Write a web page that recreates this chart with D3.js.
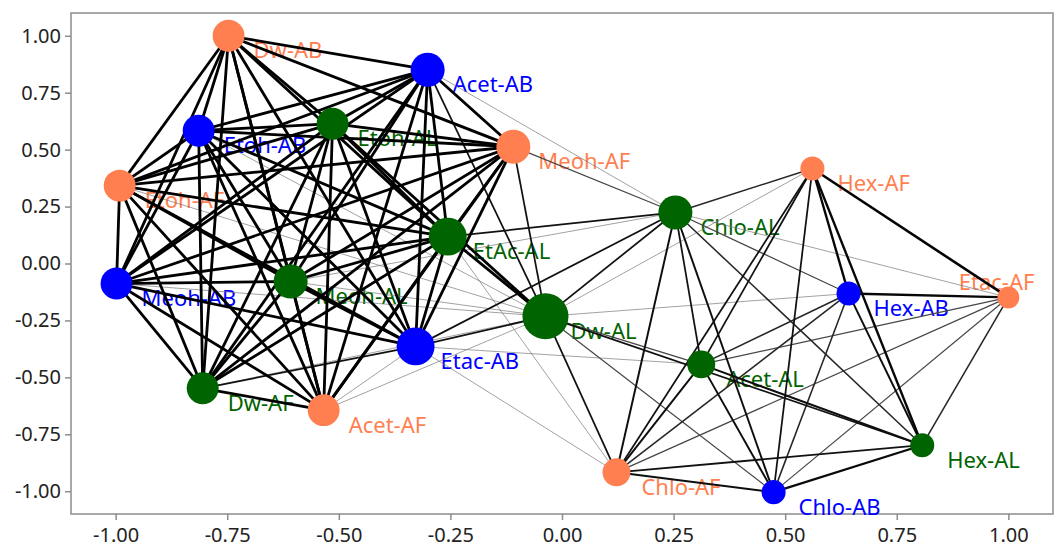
<!DOCTYPE html>
<html>
<head>
<meta charset="utf-8">
<script src="https://cdn.jsdelivr.net/npm/d3@7"></script>
<style>
  body { margin: 0; background: #fff; }
  svg { display: block; }
</style>
</head>
<body>
<div id="chart"></div>
<script>
// node data (layout coordinates)
const nodeNames = ["Dw-AB","Acet-AB","Etoh-AB","Etoh-AL","Meoh-AF","Etoh-AF","EtAc-AL","Meoh-AB","Meoh-AL","Dw-AL","Etac-AB",
                   "Dw-AF","Acet-AF","Chlo-AL","Hex-AF","Hex-AB","Etac-AF","Acet-AL","Hex-AL","Chlo-AF","Chlo-AB"];
const nodeX = [-0.747,-0.301,-0.814,-0.514,-0.109,-0.991,-0.256,-0.998,-0.608,-0.037,-0.328,
               -0.805,-0.534,0.254,0.561,0.642,1.000,0.312,0.807,0.122,0.474];
const nodeY = [1.000,0.851,0.583,0.614,0.513,0.342,0.118,-0.088,-0.079,-0.232,-0.364,
               -0.548,-0.644,0.224,0.417,-0.132,-0.149,-0.443,-0.798,-0.917,-1.004];
const nodeGroup = ["AF","AB","AB","AL","AF","AF","AL","AB","AL","AL","AB",
                   "AL","AF","AL","AF","AB","AF","AL","AL","AF","AB"];
const nodeValue = [51,58,51,51,58,51,72,51,58,106,72,
                   51,51,58,29,29,24,39,29,39,29];

// edges: [source, target, weight]
const edgeList = [
  ["Dw-AB","Acet-AB",3],["Dw-AB","Etoh-AB",3],["Dw-AB","Etoh-AL",3],["Dw-AB","Meoh-AF",3],["Dw-AB","Etoh-AF",3],
  ["Dw-AB","EtAc-AL",3],["Dw-AB","Meoh-AB",3],["Dw-AB","Meoh-AL",3],["Dw-AB","Etac-AB",3],["Dw-AB","Dw-AF",3],["Dw-AB","Acet-AF",3],
  ["Acet-AB","Etoh-AB",3],["Acet-AB","Etoh-AL",3],["Acet-AB","Meoh-AF",3],["Acet-AB","Etoh-AF",3],["Acet-AB","EtAc-AL",3],
  ["Acet-AB","Meoh-AB",3],["Acet-AB","Meoh-AL",3],["Acet-AB","Etac-AB",3],["Acet-AB","Dw-AF",3],["Acet-AB","Acet-AF",3],
  ["Etoh-AB","Etoh-AL",3],["Etoh-AB","Meoh-AF",3],["Etoh-AB","Etoh-AF",3],["Etoh-AB","EtAc-AL",3],["Etoh-AB","Meoh-AB",3],
  ["Etoh-AB","Meoh-AL",3],["Etoh-AB","Etac-AB",3],["Etoh-AB","Dw-AF",3],["Etoh-AB","Acet-AF",3],
  ["Etoh-AL","Meoh-AF",3],["Etoh-AL","Etoh-AF",3],["Etoh-AL","EtAc-AL",3],["Etoh-AL","Meoh-AB",3],["Etoh-AL","Meoh-AL",3],
  ["Etoh-AL","Etac-AB",3],["Etoh-AL","Dw-AF",3],["Etoh-AL","Acet-AF",3],
  ["Meoh-AF","Etoh-AF",3],["Meoh-AF","EtAc-AL",3],["Meoh-AF","Meoh-AB",3],["Meoh-AF","Meoh-AL",3],["Meoh-AF","Etac-AB",3],
  ["Meoh-AF","Dw-AF",3],["Meoh-AF","Acet-AF",3],
  ["Etoh-AF","EtAc-AL",3],["Etoh-AF","Meoh-AB",3],["Etoh-AF","Meoh-AL",3],["Etoh-AF","Etac-AB",3],["Etoh-AF","Dw-AF",3],["Etoh-AF","Acet-AF",3],
  ["EtAc-AL","Meoh-AB",3],["EtAc-AL","Meoh-AL",3],["EtAc-AL","Etac-AB",3],["EtAc-AL","Dw-AF",3],["EtAc-AL","Acet-AF",3],
  ["Meoh-AB","Meoh-AL",3],["Meoh-AB","Etac-AB",3],["Meoh-AB","Dw-AF",3],["Meoh-AB","Acet-AF",3],
  ["Meoh-AL","Etac-AB",3],["Meoh-AL","Dw-AF",3],["Meoh-AL","Acet-AF",3],
  ["Etac-AB","Dw-AF",2],["Etac-AB","Acet-AF",1],["Dw-AF","Acet-AF",3],
  ["Dw-AL","Etoh-AL",3],["Dw-AL","EtAc-AL",3],["Dw-AL","Acet-AB",2],["Dw-AL","Etac-AB",2],["Dw-AL","Meoh-AF",2],
  ["Dw-AL","Meoh-AL",1],["Dw-AL","Etoh-AB",1],["Dw-AL","Etoh-AF",1],["Dw-AL","Meoh-AB",1],["Dw-AL","Dw-AF",1],["Dw-AL","Acet-AF",1],
  ["Acet-AB","Chlo-AL",1],["Meoh-AF","Chlo-AL",1.5],["EtAc-AL","Chlo-AL",2],["Etac-AB","Chlo-AL",2],["Dw-AL","Chlo-AL",2],
  ["Meoh-AL","Chlo-AL",1],["Dw-AL","Chlo-AF",2],["Etac-AB","Chlo-AF",1],["EtAc-AL","Chlo-AF",1],["Etac-AB","Acet-AL",1],
  ["Dw-AL","Acet-AL",1.5],["Dw-AL","Hex-AL",2],["Dw-AL","Hex-AB",1],["Dw-AL","Chlo-AB",1.5],["Dw-AL","Hex-AF",1],
  ["Chlo-AL","Hex-AF",1.8],["Chlo-AL","Hex-AB",1.5],["Chlo-AL","Etac-AF",1],["Chlo-AL","Acet-AL",2],["Chlo-AL","Hex-AL",1.8],
  ["Chlo-AL","Chlo-AF",2.2],["Chlo-AL","Chlo-AB",2.2],
  ["Hex-AF","Hex-AB",2.6],["Hex-AF","Etac-AF",2.8],["Hex-AF","Acet-AL",2],["Hex-AF","Hex-AL",2.6],["Hex-AF","Chlo-AF",2],["Hex-AF","Chlo-AB",2],
  ["Hex-AB","Etac-AF",2.6],["Hex-AB","Acet-AL",1.8],["Hex-AB","Hex-AL",2.2],["Hex-AB","Chlo-AF",1.8],["Hex-AB","Chlo-AB",1.8],
  ["Etac-AF","Acet-AL",1.5],["Etac-AF","Hex-AL",1.8],["Etac-AF","Chlo-AF",1.5],["Etac-AF","Chlo-AB",1.5],
  ["Acet-AL","Hex-AL",2.2],["Acet-AL","Chlo-AF",2.2],["Acet-AL","Chlo-AB",2.2],
  ["Hex-AL","Chlo-AF",2],["Hex-AL","Chlo-AB",2.4],["Chlo-AF","Chlo-AB",2.2]
];

const xTicks = [-1.00,-0.75,-0.50,-0.25,0.00,0.25,0.50,0.75,1.00];
const yTicks = [-1.00,-0.75,-0.50,-0.25,0.00,0.25,0.50,0.75,1.00];

const width = 1059, height = 551;
const plotL = 71, plotR = 1053, plotT = 13, plotB = 514;
const fontFam = "'Noto Sans', 'Open Sans', sans-serif";

const svg = d3.select("#chart").append("svg")
    .attr("width", width)
    .attr("height", height);

const x = d3.scaleLinear().domain([-1.1, 1.1]).range([plotL, plotR]);
const y = d3.scaleLinear().domain([-1.1, 1.1]).range([plotB, plotT]);
const r = d3.scaleSqrt().domain([0, 106]).range([0, 23]);
const color = d3.scaleOrdinal().domain(["AF","AB","AL"]).range(["#ff7f50","#0000ff","#006400"]);
const strokeW = d3.scaleLinear().domain([1, 3]).range([0.7, 2.8]);
const strokeC = d3.scaleLinear().domain([1, 2, 3]).range(["#7a7a7a","#111","#000"]);
const fmt = d => d3.format(".2f")(d).replace("\u2212", "-");

const nodes = nodeNames.map((n, i) => ({
    name: n, x: nodeX[i], y: nodeY[i], group: nodeGroup[i], value: nodeValue[i]
}));
const byName = {};
nodes.forEach(d => byName[d.name] = d);

// frame
svg.append("rect")
    .attr("x", plotL).attr("y", plotT)
    .attr("width", plotR - plotL).attr("height", plotB - plotT)
    .style("fill", "none").style("stroke", "#8c8c8c").style("stroke-width", 1.5);

// axes
const xAxis = svg.append("g")
    .attr("transform", "translate(0," + plotB + ")")
    .call(d3.axisBottom(x).tickValues(xTicks).tickFormat(fmt).tickSize(6).tickPadding(8));
const yAxis = svg.append("g")
    .attr("transform", "translate(" + plotL + ",0)")
    .call(d3.axisLeft(y).tickValues(yTicks).tickFormat(fmt).tickSize(6).tickPadding(4));
[xAxis, yAxis].forEach(a => {
    a.select(".domain").remove();
    a.selectAll("line").style("stroke", "#8c8c8c").style("stroke-width", 1.5);
    a.selectAll("text")
      .style("font-family", fontFam)
      .style("font-size", "20px")
      .style("fill", "#222");
});

// labels (drawn under the edges, like the original)
svg.append("g").selectAll("text")
    .data(nodes)
    .enter().append("text")
    .attr("x", d => x(d.x) + 25)
    .attr("y", d => y(d.y) + 15)
    .attr("dy", "0.35em")
    .style("font-family", fontFam)
    .style("font-size", "22px")
    .style("fill", d => color(d.group))
    .text(d => d.name)
    .each(function(d) {
        // keep the label inside the frame
        const bb = this.getBBox();
        if (bb.x + bb.width > plotR - 8) {
            d3.select(this)
              .attr("x", x(d.x) - bb.width + 26)
              .attr("y", y(d.y) - 15);
        }
    });

// edges
svg.append("g").selectAll("line")
    .data(edgeList.slice().sort((a, b) => a[2] - b[2]))
    .enter().append("line")
    .attr("x1", d => x(byName[d[0]].x))
    .attr("y1", d => y(byName[d[0]].y))
    .attr("x2", d => x(byName[d[1]].x))
    .attr("y2", d => y(byName[d[1]].y))
    .style("stroke", d => strokeC(d[2]))
    .style("stroke-width", d => strokeW(d[2]));

// nodes
svg.append("g").selectAll("circle")
    .data(nodes)
    .enter().append("circle")
    .attr("cx", d => x(d.x))
    .attr("cy", d => y(d.y))
    .attr("r", d => r(d.value))
    .style("fill", d => color(d.group));
</script>
</body>
</html>
